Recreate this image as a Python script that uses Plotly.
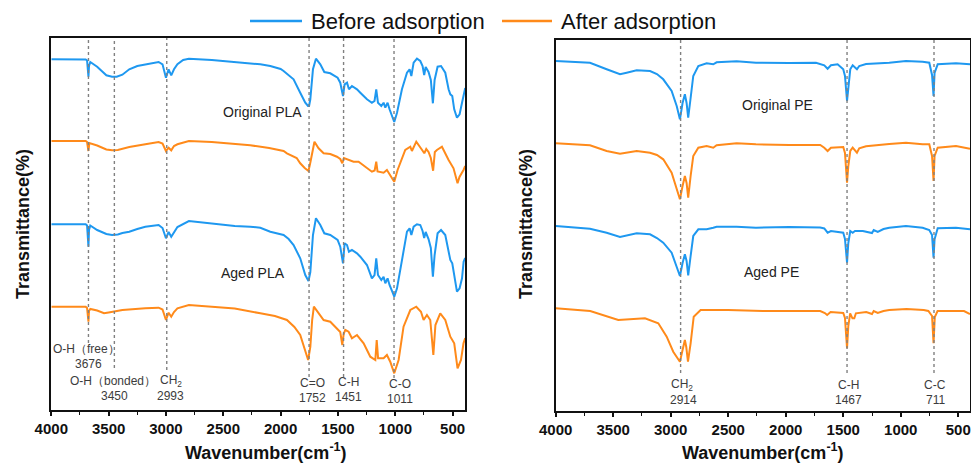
import plotly.graph_objects as go

# ---------------- data (wavenumber cm-1, transmittance a.u., stacked) ----------------
PLA_ORIGINAL_BEFORE = [
    (4000, 350.7), (3700, 350.5), (3688, 349.5), (3680, 340), (3676, 333.3), (3671, 344), (3660, 348),
    (3600, 343.3), (3520, 334.7), (3470, 333.3), (3430, 333.3), (3380, 335.3), (3320, 340.7), (3250, 344),
    (3180, 345.7), (3064, 348), (3030, 345.7), (3000, 332.3), (2977, 340.7), (2954, 334.7), (2930, 340.7),
    (2900, 345.7), (2850, 350), (2800, 351.3), (2600, 350), (2400, 348), (2265, 346.7), (2177, 345.7),
    (2090, 344), (2000, 341), (1974, 339), (1930, 335), (1887, 330.7), (1829, 317.3), (1785, 307.3),
    (1761, 304), (1752, 304), (1741, 310.7), (1718, 340.7), (1692, 351.3), (1654, 345.7), (1619, 338),
    (1567, 336.7), (1503, 332.3), (1480, 327.3), (1456, 314), (1442, 325.7), (1421, 327.3), (1404, 320.7),
    (1378, 324), (1334, 320.7), (1305, 317.3), (1247, 310.7), (1204, 307.3), (1181, 309), (1166, 320.7),
    (1151, 307.3), (1122, 304), (1102, 307.3), (1087, 302.3), (1067, 307.3), (1050, 300.7), (1020, 290.7),
    (1009, 288), (985, 297.3), (942, 320.7), (898, 337.3), (875, 340.7), (860, 334), (840, 347.3),
    (811, 351.3), (782, 349), (762, 344), (748, 335), (735, 343), (710, 338), (690, 330), (672, 306.7),
    (657, 330), (631, 343.3), (601, 344), (564, 337.3), (535, 320.7), (520, 315.7), (503, 314),
    (486, 300.7), (462, 292.3), (439, 295.7), (418, 307.3), (400, 318), (390, 322),
]
PLA_ORIGINAL_AFTER = [
    (4000, 269), (3700, 269), (3688, 268), (3676, 259), (3668, 267), (3600, 264.5), (3520, 260.5),
    (3470, 259.7), (3420, 260), (3320, 263), (3180, 265.7), (3064, 268), (3030, 266.5), (3000, 259),
    (2977, 262.3), (2954, 259.7), (2930, 264), (2900, 265.7), (2800, 269), (2600, 268), (2265, 264.7),
    (2100, 262), (1974, 259), (1945, 256.7), (1860, 252), (1829, 246.7), (1790, 242), (1757, 239),
    (1740, 248), (1720, 262), (1705, 268.3), (1669, 261.7), (1625, 256.7), (1567, 256), (1509, 253.3),
    (1480, 251), (1462, 246.7), (1448, 252), (1407, 250), (1364, 248.3), (1320, 248.3), (1262, 243.3),
    (1204, 238.3), (1180, 239.5), (1166, 248.3), (1155, 238.5), (1102, 237.3), (1073, 240), (1044, 234),
    (1009, 228.3), (980, 240), (956, 246.7), (913, 260), (869, 263.3), (855, 259), (817, 268.3),
    (782, 263.3), (760, 259), (747, 256.7), (730, 261), (710, 258), (690, 252), (670, 239.3), (655, 258),
    (637, 260), (593, 263.3), (535, 250), (492, 241.7), (457, 226.7), (440, 233), (405, 240), (390, 244),
]
PLA_AGED_BEFORE = [
    (4000, 185.7), (3700, 185.7), (3688, 184.5), (3680, 175), (3676, 163.3), (3671, 180), (3660, 184.5),
    (3600, 180), (3520, 176), (3470, 175), (3420, 175.5), (3380, 177), (3320, 178.3), (3250, 181),
    (3180, 183.3), (3064, 185), (3030, 182), (3000, 171.7), (2977, 178), (2954, 173.3), (2930, 178),
    (2900, 183), (2800, 189), (2600, 186.7), (2400, 184), (2265, 183.3), (2177, 182.3), (2090, 178.3),
    (1974, 175), (1930, 171), (1887, 165), (1829, 151.7), (1785, 135), (1757, 129), (1741, 138),
    (1718, 175), (1692, 191.7), (1654, 185), (1619, 176.7), (1567, 175), (1503, 170), (1480, 163.3),
    (1456, 146.7), (1442, 166.7), (1421, 165), (1404, 158.3), (1378, 160), (1334, 156.7), (1305, 153.3),
    (1247, 145), (1204, 131.7), (1181, 135), (1166, 151.7), (1151, 135), (1122, 130), (1102, 133.3),
    (1087, 126.7), (1067, 131.7), (1050, 125), (1020, 116.7), (1009, 113.3), (985, 121.7), (942, 151.7),
    (898, 178.3), (875, 181.7), (860, 175), (840, 183.3), (811, 185.7), (782, 185), (762, 179),
    (748, 172), (735, 178), (710, 171), (690, 162), (672, 133.3), (657, 155), (631, 176.7), (601, 180),
    (564, 175), (535, 156.7), (520, 150), (503, 146.7), (486, 135), (462, 118.3), (439, 121.7),
    (418, 131.7), (404, 148.3), (390, 152),
]
PLA_AGED_AFTER = [
    (4000, 103.3), (3700, 103.3), (3688, 102), (3680, 95), (3676, 88.3), (3671, 99), (3660, 101),
    (3600, 99.5), (3540, 96.7), (3500, 97.5), (3450, 98.3), (3380, 100), (3180, 101.7), (3064, 102.3),
    (3030, 100.5), (3000, 90), (2977, 97.3), (2954, 93.3), (2930, 98), (2900, 101.7), (2800, 105),
    (2600, 103.3), (2400, 101.5), (2177, 96.7), (2050, 94), (1945, 90), (1880, 83), (1829, 75),
    (1786, 60), (1760, 50), (1741, 63), (1725, 90), (1710, 103.3), (1669, 96.7), (1625, 90),
    (1567, 88.3), (1509, 81.7), (1480, 78), (1462, 65), (1450, 76), (1436, 80), (1407, 78.3),
    (1378, 71.7), (1334, 75), (1276, 66.7), (1218, 53.3), (1174, 50), (1162, 70), (1150, 51.7),
    (1102, 51.7), (1073, 55), (1044, 48.3), (1009, 36.7), (971, 50), (928, 83.3), (869, 100),
    (817, 103.3), (776, 98.3), (753, 90), (724, 95), (695, 90), (668, 55), (650, 85), (637, 88.3),
    (608, 96.7), (564, 90), (520, 73.3), (486, 66.7), (457, 41.7), (427, 50), (405, 66.7), (390, 72),
]
PE_ORIGINAL_BEFORE = [
    (4000, 350), (3850, 349.5), (3702, 348.3), (3557, 341.7), (3441, 336.7), (3383, 338.3), (3296, 340.7),
    (3180, 340), (3120, 337), (3065, 331.7), (2992, 320), (2948, 305), (2920, 291.7), (2897, 308),
    (2877, 316.7), (2862, 308), (2848, 293.3), (2827, 313), (2804, 335), (2760, 345), (2688, 347.7),
    (2630, 346.7), (2601, 348.7), (2427, 349.7), (2259, 348.3), (1969, 348), (1737, 348.3),
    (1665, 345.7), (1636, 342.3), (1607, 345.7), (1549, 346.7), (1500, 341.7), (1485, 335), (1467, 310),
    (1456, 326), (1439, 341.7), (1418, 345.7), (1398, 343.3), (1381, 341.7), (1361, 345), (1302, 347),
    (1100, 348.3), (955, 350), (810, 349.3), (752, 348.3), (728, 336), (715, 315), (706, 338),
    (679, 346.7), (520, 347.7), (398, 346.7),
]
PE_ORIGINAL_AFTER = [
    (4000, 267.7), (3850, 267), (3702, 265.7), (3557, 260), (3441, 257.3), (3296, 260), (3180, 258.3),
    (3120, 256), (3065, 251.7), (2992, 238.3), (2948, 221.7), (2920, 211.7), (2897, 225), (2877, 235),
    (2862, 228), (2848, 213.3), (2827, 235), (2804, 255), (2760, 263.3), (2688, 265), (2630, 263.3),
    (2601, 265.7), (2427, 267.7), (2259, 266.7), (1969, 266), (1700, 266), (1665, 263.3), (1636, 260),
    (1607, 263.3), (1500, 264), (1485, 258), (1467, 228.3), (1456, 245), (1439, 260), (1418, 263.3),
    (1398, 260), (1381, 258.3), (1361, 262.7), (1302, 264.7), (1100, 267), (955, 268.3), (810, 266.7),
    (752, 266.7), (728, 255), (715, 230), (706, 255), (679, 263.3), (520, 265), (398, 262.3),
]
PE_AGED_BEFORE = [
    (4000, 185), (3850, 184), (3702, 182.3), (3557, 178.3), (3441, 174), (3296, 177.7), (3180, 176.7),
    (3120, 173), (3065, 168.3), (2992, 158.3), (2948, 145), (2920, 135), (2897, 148), (2877, 156.7),
    (2862, 150), (2848, 135.7), (2827, 155), (2804, 175), (2760, 181.7), (2688, 181.7), (2630, 183.3),
    (2601, 184.3), (2427, 184.3), (2259, 183.3), (1969, 184), (1700, 183.5), (1665, 182.5), (1636, 178.3),
    (1607, 180), (1500, 178.3), (1485, 172), (1467, 148.3), (1456, 168), (1439, 180), (1418, 178.3),
    (1398, 180), (1330, 180), (1250, 178), (1235, 181), (1200, 179), (1150, 182), (1100, 183.3),
    (955, 185), (810, 183.3), (752, 181), (728, 176), (715, 153.3), (706, 171.7), (679, 182.7),
    (520, 183.3), (398, 181.7),
]
PE_AGED_AFTER = [
    (4000, 102.7), (3700, 100), (3456, 91), (3224, 92.7), (3108, 87.7), (3035, 74.3), (2978, 59.3),
    (2920, 49.3), (2897, 61), (2877, 71), (2865, 64), (2850, 49.3), (2827, 67.7), (2800, 94.3),
    (2740, 101), (2500, 101), (2200, 100), (1700, 100), (1660, 98), (1640, 96), (1610, 99), (1500, 98),
    (1485, 93), (1467, 62.7), (1456, 85), (1440, 97.7), (1420, 92.7), (1404, 92.7), (1390, 97.7),
    (1300, 99), (1250, 97), (1235, 100), (1200, 98), (1150, 100), (1100, 101), (950, 102), (800, 101),
    (760, 100), (728, 95), (715, 67.7), (704, 94), (680, 100), (600, 100), (450, 100), (398, 97),
]

X_TICKS = [4000, 3500, 3000, 2500, 2000, 1500, 1000, 500]
X_MINOR = [3750, 3250, 2750, 2250, 1750, 1250, 750]
PLA_BANDS = [3676, 3450, 2993, 1752, 1451, 1011]
PE_BANDS = [2914, 1467, 711]
SERIES_NAMES = ["Before adsorption", "After adsorption"]

# ---------------- styling ----------------
W, H = 971, 465
BLUE = "#1E98F0"
ORANGE = "#FF8A1A"
FONT = "Liberation Sans, Arial, Helvetica, sans-serif"
LBL = "#3c3c3c"


def px(x):
    return x / W


def py(y):
    return 1 - y / H


fig = go.Figure()

panels = [
    ("x", "y", [(PLA_ORIGINAL_BEFORE, BLUE), (PLA_ORIGINAL_AFTER, ORANGE),
                (PLA_AGED_BEFORE, BLUE), (PLA_AGED_AFTER, ORANGE)]),
    ("x2", "y2", [(PE_ORIGINAL_BEFORE, BLUE), (PE_ORIGINAL_AFTER, ORANGE),
                  (PE_AGED_BEFORE, BLUE), (PE_AGED_AFTER, ORANGE)]),
]
for xa, ya, series in panels:
    for data, color in series:
        fig.add_trace(go.Scatter(
            x=[p[0] for p in data], y=[p[1] for p in data], mode="lines",
            line=dict(color=color, width=2), xaxis=xa, yaxis=ya,
            showlegend=False, hoverinfo="skip"))

shapes = []
# dotted band markers
pla_ends = [67, 42, 40, 33, 33, 32]
for wn, yend in zip(PLA_BANDS, pla_ends):
    shapes.append(dict(type="line", xref="x", yref="y", x0=wn, x1=wn, y0=yend, y1=372,
                       line=dict(color="#808080", width=1.4, dash="dot"), layer="above"))
for wn in PE_BANDS:
    shapes.append(dict(type="line", xref="x2", yref="y2", x0=wn, x1=wn, y0=38, y1=371,
                       line=dict(color="#808080", width=1.4, dash="dot"), layer="above"))

# legend lines
shapes.append(dict(type="line", xref="paper", yref="paper", x0=px(250), x1=px(302), y0=py(21), y1=py(21),
                   line=dict(color=BLUE, width=2.5)))
shapes.append(dict(type="line", xref="paper", yref="paper", x0=px(502), x1=px(552), y0=py(21), y1=py(21),
                   line=dict(color=ORANGE, width=2.5)))

ann = []


def text(x, y, s, size, color="#111", xanchor="center", angle=0):
    ann.append(dict(x=px(x), y=py(y), xref="paper", yref="paper", text=s, showarrow=False,
                    xanchor=xanchor, yanchor="middle", textangle=angle,
                    font=dict(family=FONT, size=size, color=color)))


# legend text
text(309, 21, SERIES_NAMES[0], 22, "#111", "left")
text(559, 21, SERIES_NAMES[1], 22, "#111", "left")

# sample labels
text(262.5, 112, "Original PLA", 14, "#222")
text(253, 273, "Aged PLA", 14, "#222")
text(777, 105, "Original PE", 14, "#222")
text(771, 272, "Aged PE", 14, "#222")

# band labels PLA
text(86, 349, "O-H（free）", 12, LBL)
text(88, 364, "3676", 12, LBL)
text(112.5, 381, "O-H（bonded）", 12, LBL)
text(171, 381, "CH<sub>2</sub>", 12, LBL)
text(114, 396, "3450", 12, LBL)
text(170, 396, "2993", 12, LBL)
text(312, 383, "C=O", 12, LBL)
text(312, 398, "1752", 12, LBL)
text(348, 382, "C-H", 12, LBL)
text(348, 397, "1451", 12, LBL)
text(400, 384, "C-O", 12, LBL)
text(400, 399, "1011", 12, LBL)
# band labels PE
text(682, 385, "CH<sub>2</sub>", 12, LBL)
text(683, 400, "2914", 12, LBL)
text(848, 385, "C-H", 12, LBL)
text(848, 400, "1467", 12, LBL)
text(935, 385, "C-C", 12, LBL)
text(935, 400, "711", 12, LBL)

# axis titles
text(266, 451, "<b>Wavenumber(cm<sup>-1</sup>)</b>", 18, "#111")
text(763, 451, "<b>Wavenumber(cm<sup>-1</sup>)</b>", 18, "#111")
text(23, 224, "<b>Transmittance(%)</b>", 18, "#111", angle=-90)
text(526, 224, "<b>Transmittance(%)</b>", 18, "#111", angle=-90)

xcommon = dict(tickmode="array", tickvals=X_TICKS, ticktext=[str(t) for t in X_TICKS],
               ticks="outside", ticklen=4, tickwidth=1.5, tickcolor="#111",
               minor=dict(ticks="outside", ticklen=3, tickwidth=1.2, tickcolor="#111",
                          tickvals=X_MINOR),
               showline=True, mirror=True, linecolor="#111", linewidth=1.8,
               showgrid=False, zeroline=False, automargin=False,
               tickfont=dict(family=FONT, size=15, color="#111", weight="bold"))
ycommon = dict(showticklabels=False, ticks="", showline=True, mirror=True, linecolor="#111",
               linewidth=1.8, showgrid=False, zeroline=False, automargin=False)

fig.update_layout(
    width=W, height=H, margin=dict(l=0, r=0, t=0, b=0, autoexpand=False),
    paper_bgcolor="white", plot_bgcolor="white", showlegend=False,
    xaxis=dict(domain=[px(51.3), px(465)], range=[4000, 392], anchor="y", **xcommon),
    yaxis=dict(domain=[py(410), py(38)], range=[0, 372], anchor="x", **ycommon),
    xaxis2=dict(domain=[px(555.7), px(970)], range=[4000, 398], anchor="y2", **xcommon),
    yaxis2=dict(domain=[py(411), py(40)], range=[0, 371], anchor="x2", **ycommon),
    shapes=shapes, annotations=ann,
)

fig.write_html("out.html", config={"displayModeBar": False},
               post_script="document.body.style.margin='0';document.body.style.overflow='hidden';")
